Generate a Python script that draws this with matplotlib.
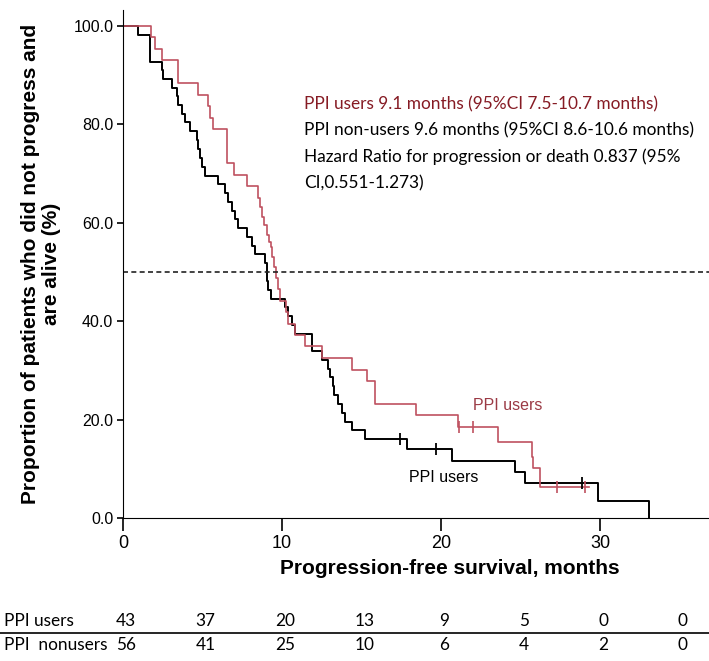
import numpy as np
import matplotlib.pyplot as plt
from matplotlib import transforms

# Kaplan-Meier steps (months, % without progression)
users_t = [0, 1.76, 2.01, 2.43, 3.48, 4.74, 5.37, 5.47, 5.68, 6.52,
           6.98, 7.78, 8.51, 8.62, 8.76, 8.89, 9.04, 9.18, 9.29, 9.39,
           9.50, 9.60, 9.75, 9.87, 10.25, 10.40, 10.82, 11.45, 12.50, 14.38,
           15.33, 15.85, 18.43, 21.09, 23.60, 25.70, 25.80, 26.20, 29.30]
users_s = [100, 97.7, 95.3, 93.0, 88.4, 86.0, 83.7, 81.4, 79.1, 72.1,
           69.8, 67.4, 65.1, 63.3, 61.3, 59.6, 57.5, 56.2, 55.2, 53.1,
           51.1, 48.8, 46.5, 44.2, 41.9, 39.5, 37.2, 34.9, 32.6, 30.2,
           27.9, 23.3, 20.9, 18.6, 15.5, 12.5, 10.2, 6.4, 6.4]
users_cens_t = [21.15, 22.0, 27.3, 29.05]
users_cens_s = [18.6, 18.6, 6.4, 6.4]

nonusers_t = [0, 0.96, 1.70, 2.43, 2.53, 3.06, 3.38, 3.48, 3.69, 3.90,
              4.21, 4.64, 4.74, 4.84, 4.95, 5.16, 6.00, 6.42, 6.62, 6.84,
              7.04, 7.21, 7.78, 8.09, 8.30, 8.93, 9.04, 9.14, 9.30, 10.19,
              10.38, 10.60, 10.82, 11.87, 12.50, 12.90, 13.00, 13.20, 13.30, 13.50,
              13.75, 13.96, 14.40, 15.20, 17.85, 20.70, 24.65, 25.30, 29.90, 33.10]
nonusers_s = [100, 98.2, 92.7, 91.1, 89.3, 87.5, 85.7, 83.9, 82.1, 80.4,
              78.6, 76.8, 75.0, 73.2, 71.4, 69.6, 67.9, 66.1, 64.3, 62.5,
              60.7, 58.9, 57.1, 55.4, 53.6, 51.8, 48.2, 46.4, 44.6, 42.9,
              41.1, 39.3, 37.5, 34.0, 32.2, 30.4, 28.6, 26.8, 25.0, 23.2,
              21.4, 19.6, 17.9, 16.1, 14.0, 11.7, 9.4, 7.1, 3.5, 0]
nonusers_cens_t = [17.4, 19.7, 28.9]
nonusers_cens_s = [16.1, 14.0, 7.1]

# numbers at risk
risk_months = [0, 5, 10, 15, 20, 25, 30, 35]
users_risk = [43, 37, 20, 13, 9, 5, 0, 0]
nonusers_risk = [56, 41, 25, 10, 6, 4, 2, 0]

notes = ['PPI users 9.1 months (95%CI 7.5-10.7 months)',
         'PPI non-users 9.6 months (95%CI 8.6-10.6 months)',
         'Hazard Ratio for progression or death 0.837 (95%',
         'CI,0.551-1.273)']

narrow = ['Liberation Sans Narrow', 'Liberation Sans', 'DejaVu Sans']
arial = ['Liberation Sans', 'DejaVu Sans']
calib = ['Lato', 'DejaVu Sans']

red = '#bf5160'
dark_red = '#861b24'

fig = plt.figure(figsize=(7.09, 6.61), dpi=100)
ax = fig.add_axes([0.1735, 0.2159, 0.8265, 0.769])

ax.step(nonusers_t, nonusers_s, where='post', color='black', lw=1.4)
ax.step(users_t, users_s, where='post', color=red, lw=1.2)
ax.plot(nonusers_cens_t, nonusers_cens_s, ls='none', marker='|', ms=9,
        mew=1.3, color='black')
ax.plot(users_cens_t, users_cens_s, ls='none', marker='|', ms=9,
        mew=1.2, color=red)

ax.axhline(50, color='#222222', lw=1.2, ls=(0, (3, 2)))

ax.set_xlim(0, 36.86)
ax.set_ylim(0, 103.25)
ax.spines['top'].set_visible(False)
ax.spines['right'].set_visible(False)
ax.set_xticks([0, 10, 20, 30])
ax.set_yticks([0, 20, 40, 60, 80, 100])
ax.set_yticklabels(['%.1f' % v for v in [0, 20, 40, 60, 80, 100]],
                   family=arial, fontsize=11.5)
ax.set_xticklabels(['0', '10', '20', '30'], family=narrow, fontsize=13)
ax.tick_params(axis='x', direction='out', length=9, width=1.2, pad=3)
ax.tick_params(axis='y', direction='out', length=4, width=1.2, pad=3)

# text block
for i, s in enumerate(notes):
    ax.text(11.4, 84.0 - 5.3 * i, s, family=calib, fontsize=12.4,
            color=dark_red if i == 0 else 'black', ha='left', va='center')

ax.text(24.2, 23.0, 'PPI users', family=arial, fontsize=11.5,
        color='#9b3a45', ha='center', va='center')
ax.text(20.2, 8.2, 'PPI users', family=arial, fontsize=11.5,
        color='black', ha='center', va='center')

fig.text(41 / 709, 1 - 264 / 661,
         'Proportion of patients who did not progress and\nare alive (%)',
         rotation=90, ha='center', va='center', multialignment='center',
         family=narrow, fontsize=15, fontweight='bold', linespacing=1.15)
fig.text(450 / 709, 1 - 569 / 661, 'Progression-free survival, months',
         ha='center', va='center', family=narrow, fontsize=15,
         fontweight='bold')

# numbers at risk table
tr = transforms.blended_transform_factory(ax.transData, fig.transFigure)
row_y = [1 - 621 / 661, 1 - 645 / 661]
fig.text(4 / 709, row_y[0], 'PPI users', family=calib, fontsize=12.4,
         va='center', ha='left')
fig.text(4 / 709, row_y[1], 'PPI  nonusers', family=calib, fontsize=12.4,
         va='center', ha='left')
for m, a, b in zip(risk_months, users_risk, nonusers_risk):
    ax.text(m + 0.2, row_y[0], str(a), transform=tr, family=calib,
            fontsize=12.4, ha='center', va='center', clip_on=False)
    ax.text(m + 0.2, row_y[1], str(b), transform=tr, family=calib,
            fontsize=12.4, ha='center', va='center', clip_on=False)
fig.add_artist(plt.Line2D([0, 1], [1 - 633 / 661, 1 - 633 / 661],
                          color='black', lw=1.2))

fig.savefig('out.png', dpi=100)
